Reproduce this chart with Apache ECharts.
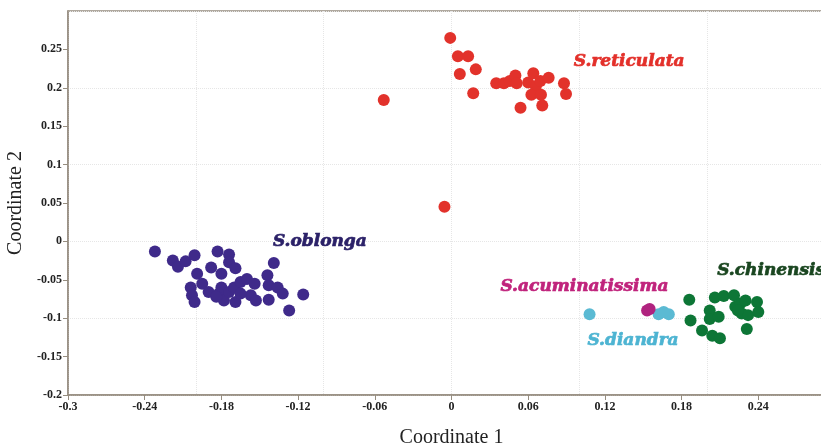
<!DOCTYPE html>
<html>
<head>
<meta charset="utf-8">
<script src="https://cdn.jsdelivr.net/npm/echarts@6/dist/echarts.min.js"></script>
<style>html,body{margin:0;padding:0;background:#fff}#c{width:821px;height:446px}</style>
</head>
<body>
<div id="c"></div>
<script>
const xTicks = [-0.3, -0.24, -0.18, -0.12, -0.06, 0, 0.06, 0.12, 0.18, 0.24];
const yTicks = [-0.2, -0.15, -0.1, -0.05, 0, 0.05, 0.1, 0.15, 0.2, 0.25];

const reticulata = [
  [-0.001,0.265],[0.005,0.241],[0.013,0.241],[0.0065,0.218],[0.019,0.224],[0.017,0.193],
  [0.035,0.206],[0.041,0.206],[0.0456,0.209],[0.050,0.216],[0.051,0.206],[0.054,0.174],
  [0.060,0.207],[0.064,0.219],[0.066,0.202],[0.0625,0.191],[0.0695,0.209],[0.070,0.191],
  [0.071,0.177],[0.076,0.213],[0.088,0.206],[0.0896,0.192],[-0.053,0.184],[-0.0055,0.045]
];
const oblonga = [
  [-0.232,-0.013],[-0.218,-0.025],[-0.214,-0.033],[-0.208,-0.026],[-0.201,-0.018],[-0.183,-0.013],
  [-0.174,-0.017],[-0.174,-0.027],[-0.188,-0.034],[-0.199,-0.042],[-0.180,-0.042],[-0.204,-0.060],
  [-0.195,-0.055],[-0.203,-0.070],[-0.201,-0.079],[-0.180,-0.060],[-0.182,-0.068],[-0.178,-0.077],
  [-0.174,-0.066],[-0.169,-0.079],[-0.170,-0.060],[-0.165,-0.053],[-0.160,-0.049],[-0.154,-0.055],
  [-0.157,-0.070],[-0.144,-0.044],[-0.139,-0.028],[-0.143,-0.057],[-0.136,-0.060],[-0.143,-0.076],
  [-0.132,-0.068],[-0.127,-0.090],[-0.116,-0.069],[-0.165,-0.068],[-0.190,-0.066],[-0.184,-0.072],
  [-0.169,-0.035],[-0.153,-0.077]
];
const chinensis = [
  [0.186,-0.076],[0.187,-0.103],[0.196,-0.116],[0.204,-0.123],[0.210,-0.126],[0.202,-0.090],
  [0.202,-0.101],[0.209,-0.098],[0.206,-0.073],[0.213,-0.071],[0.221,-0.070],[0.222,-0.085],
  [0.226,-0.081],[0.227,-0.094],[0.232,-0.096],[0.230,-0.077],[0.239,-0.079],[0.240,-0.092],
  [0.231,-0.114],[0.224,-0.090]
];
const diandra = [[0.108,-0.095],[0.162,-0.095],[0.170,-0.095],[0.166,-0.092]];
const acuminatissima = [[0.155,-0.088],[0.153,-0.090]];

const groupNames = ['S.reticulata','S.oblonga','S.acuminatissima','S.chinensis','S.diandra'];
const groupLabelPos = [[0.139,0.234],[-0.103,0.0],[0.104,-0.059],[0.250,-0.038],[0.142,-0.129]];
const groupLabelColors = ['#e3302a','#2b2168','#c0237c','#1a4620','#4db4d2'];

const chart = echarts.init(document.getElementById('c'));
const axisFont = {fontFamily:'Liberation Serif', fontWeight:'bold', fontSize:12, color:'#222'};
function mk(name, data, color) {
  return {type:'scatter', name, data, symbolSize:12, itemStyle:{color, opacity:1}, xAxisIndex:0, yAxisIndex:0, z:3};
}
function fmt(list){ return v=>{const t=list.find(t=>Math.abs(t-v)<1e-6);return t!==undefined?String(t):'';}; }
chart.setOption({
  animation:false,
  grid:{left:68, top:11, bottom:51, right:-14, show:true, borderColor:'#968d80', borderWidth:1.5, outerBoundsMode:'none'},
  xAxis:[
    {type:'value', min:-0.3, max:0.3, interval:0.06,
     name:'Coordinate 1', nameLocation:'middle', nameGap:33,
     nameTextStyle:{fontFamily:'Liberation Serif', fontSize:20, color:'#222'},
     axisLine:{show:true, onZero:false, lineStyle:{color:'#968d80', width:1.5}},
     axisTick:{show:true, length:5, lineStyle:{color:'#968d80'}},
     axisLabel:{...axisFont, margin:6, formatter:fmt(xTicks)},
     splitLine:{show:false}},
    {type:'value', min:-0.3, max:0.3, interval:0.1, position:'bottom',
     axisLine:{show:false, onZero:false}, axisTick:{show:false}, axisLabel:{show:false},
     splitLine:{show:true, lineStyle:{color:'#e6e6e6', type:'dotted', width:1}}}
  ],
  yAxis:[
    {type:'value', min:-0.2, max:0.3, interval:0.05,
     name:'Coordinate 2', nameLocation:'middle', nameGap:40, nameRotate:90,
     nameTextStyle:{fontFamily:'Liberation Serif', fontSize:20, color:'#222'},
     axisLine:{show:true, onZero:false, lineStyle:{color:'#968d80', width:1.5}},
     axisTick:{show:true, length:5, lineStyle:{color:'#968d80'}},
     axisLabel:{...axisFont, margin:6, showMaxLabel:false, formatter:fmt(yTicks)},
     splitLine:{show:false}},
    {type:'value', min:-0.2, max:0.3, interval:0.1,
     axisLine:{show:false, onZero:false}, axisTick:{show:false}, axisLabel:{show:false},
     splitLine:{show:true, lineStyle:{color:'#e6e6e6', type:'dotted', width:1}}}
  ],
  series:[
    mk('S.reticulata', reticulata, '#e2322b'),
    mk('S.oblonga', oblonga, '#3f2a8a'),
    mk('S.chinensis', chinensis, '#0d7636'),
    mk('S.diandra', diandra, '#5bbad3'),
    mk('S.acuminatissima', acuminatissima, '#b0237f'),
    {type:'scatter', symbolSize:0, silent:true, z:5, itemStyle:{opacity:1},
     data: groupNames.map((n,i)=>({value:groupLabelPos[i], name:n,
       label:{show:true, position:'inside', formatter:n, color:groupLabelColors[i], opacity:1,
         fontFamily:'DejaVu Serif', fontStyle:'italic', fontWeight:'bold', fontSize:17,
         textBorderColor:groupLabelColors[i], textBorderWidth:0.7}}))}
  ]
});
</script>
</body>
</html>
